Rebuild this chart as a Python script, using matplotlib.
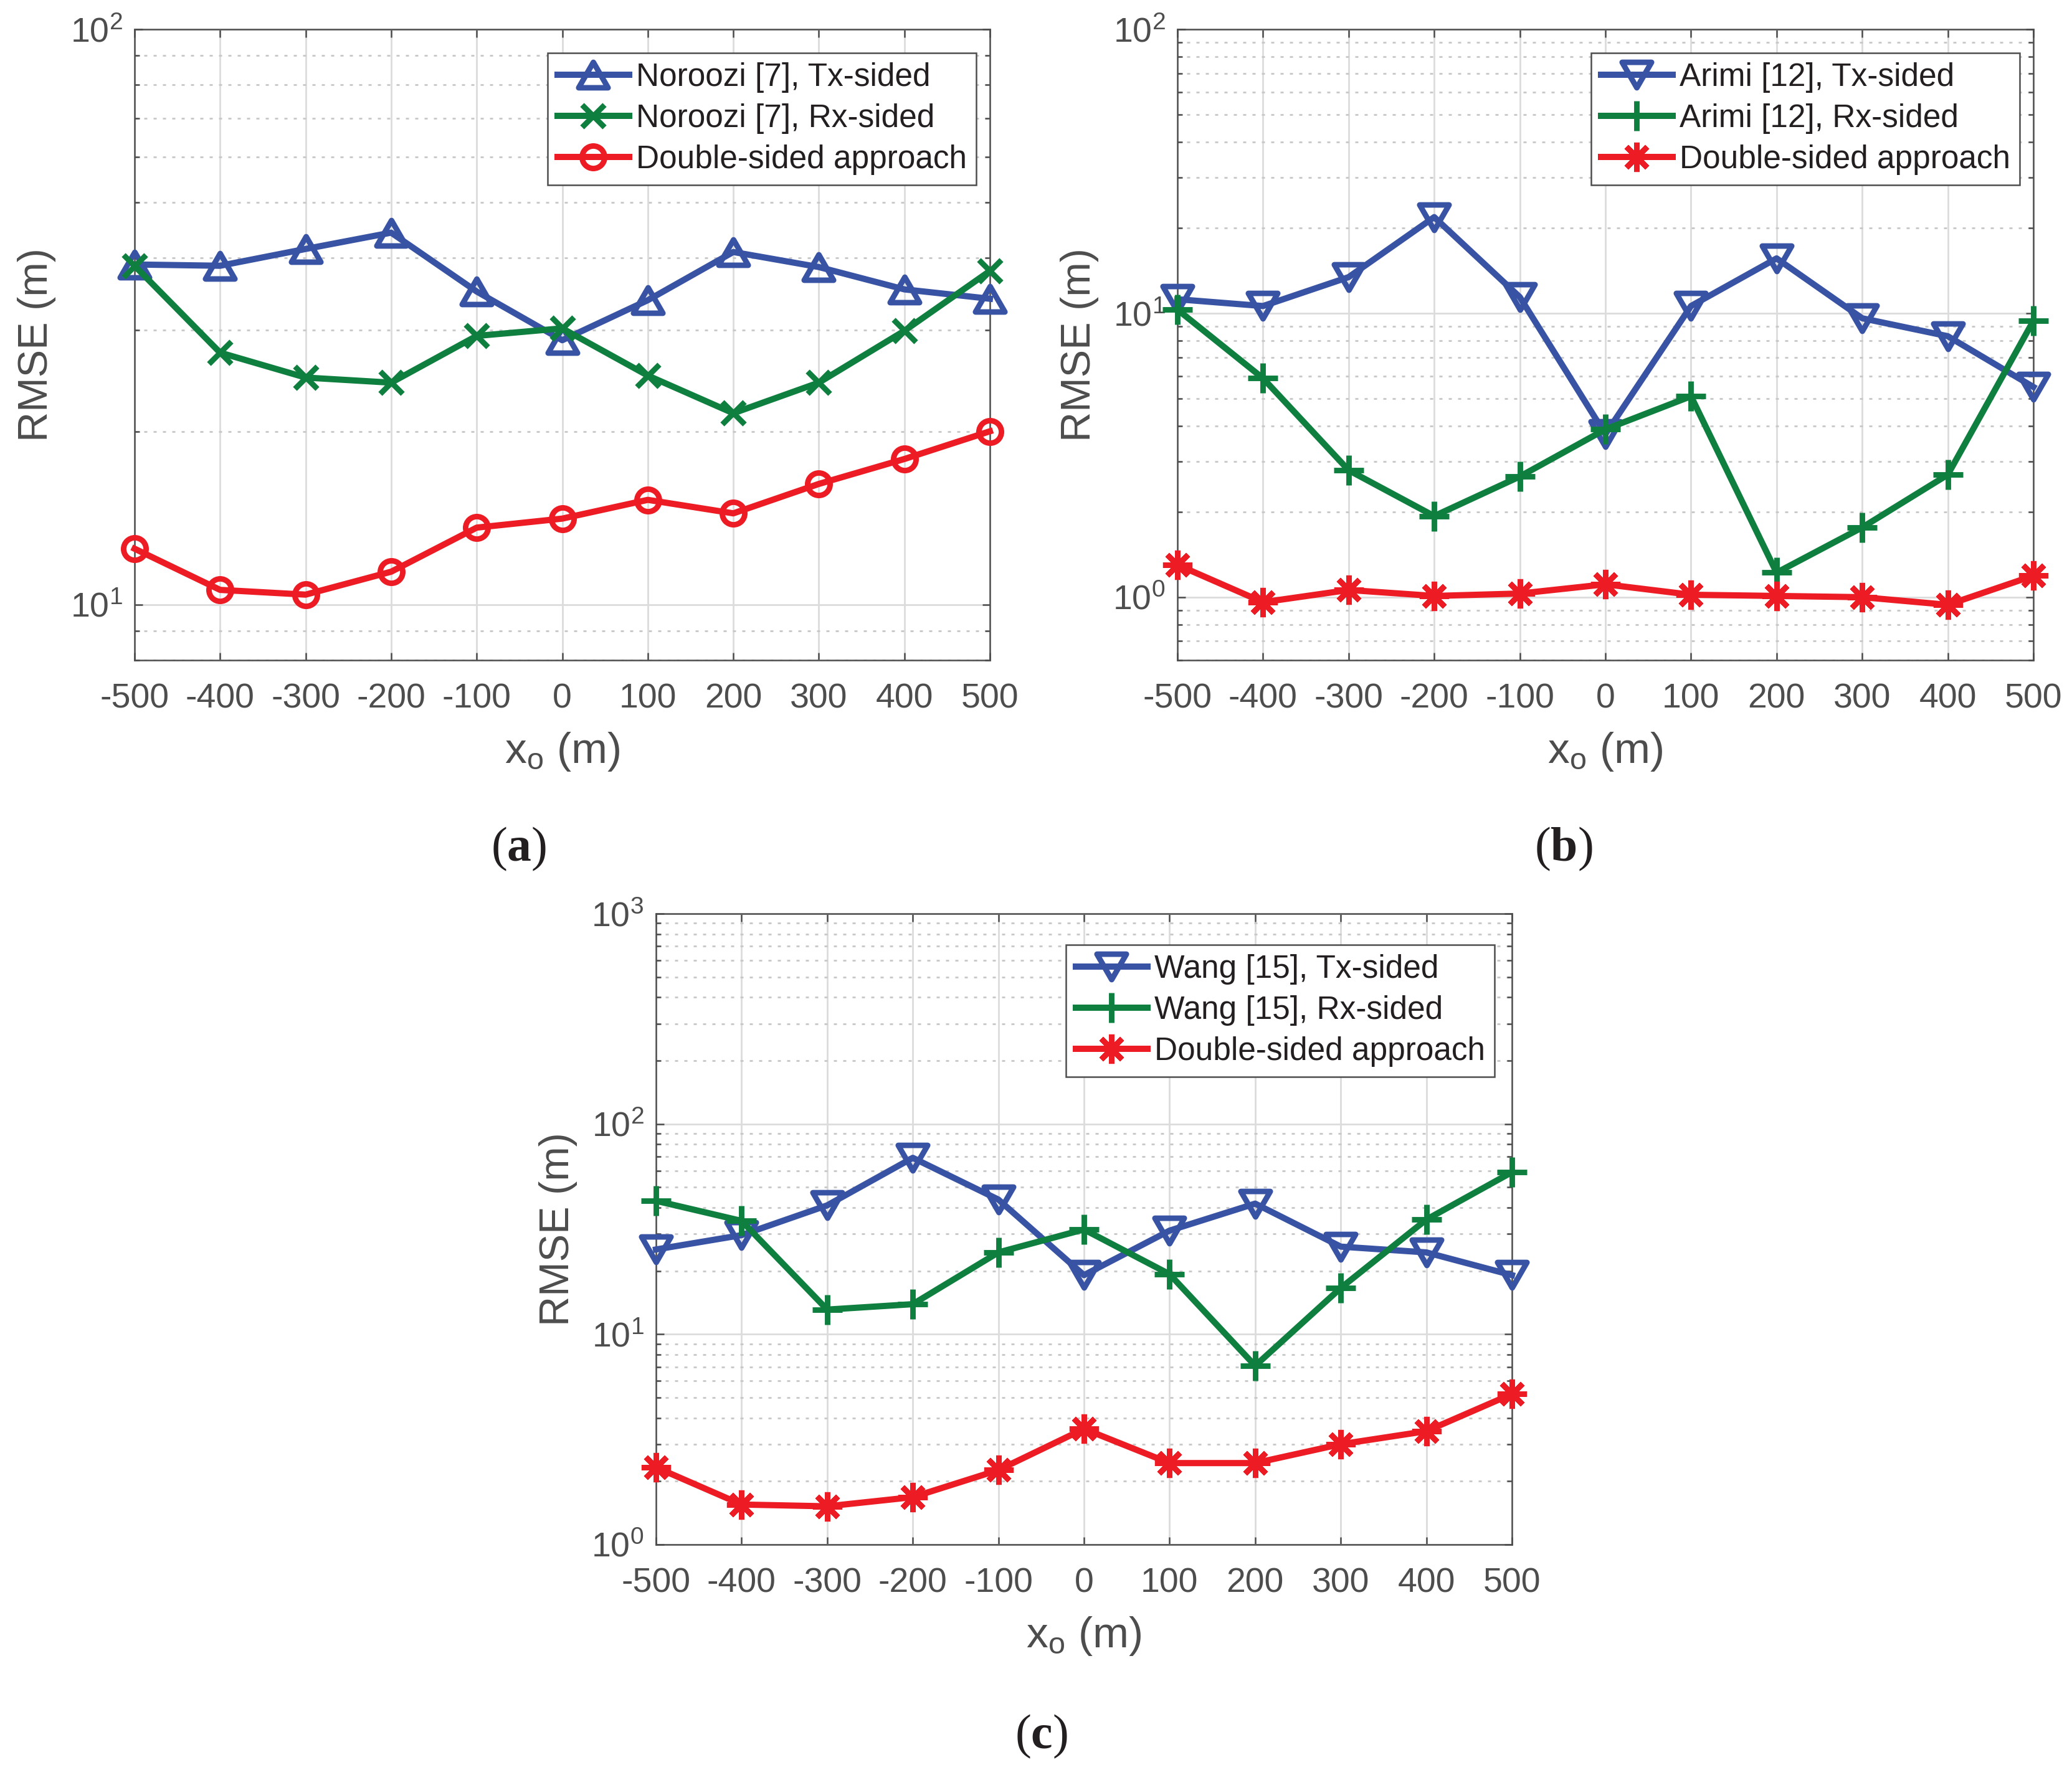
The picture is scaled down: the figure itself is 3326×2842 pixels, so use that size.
import numpy as np
import matplotlib
matplotlib.use('Agg')
import matplotlib.pyplot as plt
from matplotlib.path import Path
from matplotlib.ticker import LogLocator, NullFormatter

# x positions of the observer (m)
x_pos = [-500, -400, -300, -200, -100, 0, 100, 200, 300, 400, 500]
x_labels = ['-500', '-400', '-300', '-200', '-100', '0', '100', '200', '300', '400', '500']

# (a) Noroozi
noroozi_tx = [39.0, 38.8, 41.5, 44.3, 35.0, 28.8, 33.8, 41.0, 38.6, 35.3, 34.0]
noroozi_rx = [38.8, 27.4, 24.8, 24.3, 29.3, 30.2, 25.0, 21.5, 24.3, 29.9, 38.0]
double_a = [12.5, 10.6, 10.4, 11.4, 13.6, 14.1, 15.2, 14.4, 16.2, 17.9, 20.0]

# (b) Arimi
arimi_tx = [11.2, 10.6, 13.4, 21.8, 11.4, 3.75, 10.6, 15.6, 9.6, 8.3, 5.5]
arimi_rx = [10.3, 5.9, 2.8, 1.93, 2.66, 3.9, 5.1, 1.22, 1.76, 2.7, 9.4]
double_b = [1.30, 0.96, 1.06, 1.01, 1.03, 1.11, 1.02, 1.01, 1.00, 0.94, 1.19]

# (c) Wang
wang_tx = [25.3, 29.6, 41.0, 69.0, 43.7, 19.1, 31.1, 41.8, 26.1, 24.5, 19.1]
wang_rx = [43.1, 34.6, 13.1, 13.9, 24.5, 31.5, 19.3, 7.08, 16.6, 35.1, 59.0]
double_c = [2.33, 1.55, 1.52, 1.68, 2.26, 3.55, 2.44, 2.44, 3.0, 3.46, 5.2]

sans = 'Liberation Sans'
plt.rcParams['font.family'] = sans
plt.rcParams['mathtext.fontset'] = 'custom'
plt.rcParams['mathtext.rm'] = sans
plt.rcParams['mathtext.it'] = sans + ':italic'
plt.rcParams['mathtext.bf'] = 'Liberation Serif:bold'

blue = '#3953A4'
green = '#0F7F3F'
red = '#ED1C24'
gray = '#4D4D4D'
black = '#231F20'

# MATLAB-like (equilateral) triangles
codes = [Path.MOVETO, Path.LINETO, Path.LINETO, Path.CLOSEPOLY]
tri_up = Path([(0, 0.866), (-1, -0.866), (1, -0.866), (0, 0.866)], codes)
tri_down = Path([(0, -0.866), (-1, 0.866), (1, 0.866), (0, -0.866)], codes)
asterisk = (8, 2, 0)

W, H = 3326, 2842
fig = plt.figure(figsize=(W / 200, H / 200), dpi=200)


def pixel_axes(left, top, right, bottom):
    return fig.add_axes([left / W, 1 - bottom / H, (right - left) / W, (bottom - top) / H])


def draw_panel(ax, series, ylim, leg_anchor):
    for vals, label, color, marker, ms in series:
        ax.plot(x_pos, vals, color=color, lw=3.6, marker=marker, ms=ms, mew=3.2,
                mfc='none', label=label, clip_on=False, zorder=3)
    ax.set_yscale('log')
    ax.set_xlim(-500, 500)
    ax.set_ylim(*ylim)
    ax.set_xticks(x_pos, x_labels)
    ax.yaxis.set_major_locator(LogLocator(base=10, numticks=10))
    ax.yaxis.set_minor_locator(LogLocator(base=10, subs=np.arange(2, 10), numticks=10))
    ax.yaxis.set_minor_formatter(NullFormatter())

    ax.grid(True, which='major', color='#DCDCDC', lw=1.0)
    ax.grid(True, which='minor', axis='y', color='#C8C8C8', lw=1.0, ls=(0, (1.8, 3.6)))
    ax.set_axisbelow(True)

    ax.tick_params(which='both', direction='in', top=True, right=True, color=gray,
                   labelcolor=gray, labelsize=20, width=0.9)
    ax.tick_params(which='major', length=4.5)
    ax.tick_params(which='minor', length=3)
    ax.tick_params(axis='x', pad=13)
    ax.tick_params(axis='y', pad=7)
    for s in ax.spines.values():
        s.set_color(gray)
        s.set_linewidth(0.9)

    ax.set_xlabel(r'x$_{\mathregular{o}}$ (m)', fontsize=25, color=gray, labelpad=9)
    ax.set_ylabel('RMSE (m)', fontsize=24, color=gray, labelpad=8)

    leg = ax.legend(loc='upper right', bbox_to_anchor=leg_anchor, borderaxespad=0,
                    fontsize=18.5, handlelength=2.25, handletextpad=0.2, labelspacing=0.33,
                    borderpad=0.3, fancybox=False, framealpha=1, edgecolor=gray)
    leg.get_frame().set_linewidth(0.9)
    for t in leg.get_texts():
        t.set_color(black)


ax_a = pixel_axes(216, 47, 1589, 1060)
draw_panel(ax_a,
           [(noroozi_tx, 'Noroozi [7], Tx-sided', blue, tri_up, 17),
            (noroozi_rx, 'Noroozi [7], Rx-sided', green, 'x', 13),
            (double_a, 'Double-sided approach', red, 'o', 13)],
           (8, 100), (1 - 22 / 1373, 1 - 38 / 1013))

ax_b = pixel_axes(1890, 47, 3264, 1060)
draw_panel(ax_b,
           [(arimi_tx, 'Arimi [12], Tx-sided', blue, tri_down, 17),
            (arimi_rx, 'Arimi [12], Rx-sided', green, '+', 17),
            (double_b, 'Double-sided approach', red, asterisk, 17)],
           (0.6, 100), (1 - 22 / 1373, 1 - 38 / 1013))

ax_c = pixel_axes(1053, 1467, 2427, 2480)
draw_panel(ax_c,
           [(wang_tx, 'Wang [15], Tx-sided', blue, tri_down, 17),
            (wang_rx, 'Wang [15], Rx-sided', green, '+', 17),
            (double_c, 'Double-sided approach', red, asterisk, 17)],
           (1, 1000), (1 - 28 / 1373, 1 - 50 / 1013))

# sub-figure captions
for cx, cy, letter in [(833, 1363, 'a'), (2510, 1363, 'b'), (1671, 2788, 'c')]:
    fig.text(cx / W, 1 - cy / H, r'($\mathbf{%s}$)' % letter, ha='center', va='center',
             family='Liberation Serif', fontsize=28, color=black)

fig.savefig('out.png', dpi=200)
